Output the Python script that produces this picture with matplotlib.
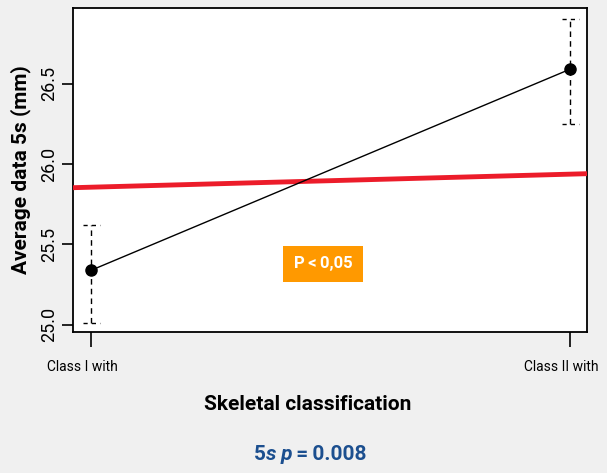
import matplotlib
matplotlib.use("Agg")
import matplotlib.pyplot as plt

FONT = ["Liberation Sans Narrow", "Roboto", "DejaVu Sans"]
plt.rcParams["font.family"] = FONT

# data
groups = ["Class I with", "Class II with"]
xpos = [1, 2]
means = [25.34, 26.59]
upper = [25.62, 26.90]
lower = [25.01, 26.25]
fit_x = [0.962, 2.035]
fit_y = [25.853, 25.94]
yticks = [25.0, 25.5, 26.0, 26.5]
ytick_labels = ["25.0", "25.5", "26.0", "26.5"]

BG = "#f0f0f0"
fig = plt.figure(figsize=(6.07, 4.73), dpi=100, facecolor=BG)
ax = fig.add_axes([0.1203, 0.2981, 0.8468, 0.685])
ax.set_facecolor("white")

# error bars: dashed stem + dashed caps
cap = 0.018
for x, lo, hi in zip(xpos, lower, upper):
    ax.vlines(x, lo, hi, colors="black", linestyles=(0, (4, 3)), lw=1)
    ax.hlines([lo, hi], x - cap, x + cap, colors="black", linestyles=(0, (3, 3)), lw=1)

ax.plot(xpos, means, color="black", lw=1, marker="o", ms=8, zorder=4)
ax.plot(fit_x, fit_y, color="#ec1c2a", lw=3.5, zorder=3, solid_capstyle="butt")

ax.text(1.484, 25.38, "P\u2009<\u20090,05", ha="center", va="center", color="white",
        fontsize=12, fontweight="bold",
        bbox=dict(boxstyle="square,pad=0.62", fc="#ff9900", ec="none"))

ax.set_xlim(0.962, 2.035)
ax.set_ylim(24.956, 26.97)
ax.set_xticks(xpos)
ax.set_xticklabels([])
# group labels sit slightly left of their ticks in the reference
for x, g in zip(xpos, groups):
    ax.annotate(g, xy=(x, 0), xycoords=("data", "axes fraction"),
                xytext=(-6.5, -20), textcoords="offset points",
                ha="center", va="top", fontsize=10)
ax.set_yticks(yticks)
ax.set_yticklabels(ytick_labels, fontsize=13, rotation=90, va="center")
ax.tick_params(axis="x", length=11, width=1.2, pad=4)
ax.tick_params(axis="y", length=8, width=1.2, pad=3)
for s in ax.spines.values():
    s.set_linewidth(1.3)

ax.set_ylabel("Average data 5s (mm)", fontsize=15, fontweight="bold", labelpad=6)
fig.text(0.5068, 0.144, "Skeletal classification", ha="center", va="center",
         fontsize=15, fontweight="bold")

# bottom stats line in pieces (italic s and p)
blue = "#1c4f8f"
t1 = fig.text(0.418, 0.028, "5", fontsize=15, fontweight="bold", color=blue, va="baseline")
t2 = ax.annotate("s", xy=(1, 0), xycoords=t1, fontsize=15, fontweight="bold",
                 style="italic", color=blue, va="bottom")
t3 = ax.annotate(" p", xy=(1, 0), xycoords=t2, fontsize=15, fontweight="bold",
                 style="italic", color=blue, va="bottom")
ax.annotate("\u2009=\u20090.008", xy=(1, 0), xycoords=t3, fontsize=15, fontweight="bold",
            color=blue, va="bottom")

fig.savefig("out.png", dpi=100, facecolor=BG)
